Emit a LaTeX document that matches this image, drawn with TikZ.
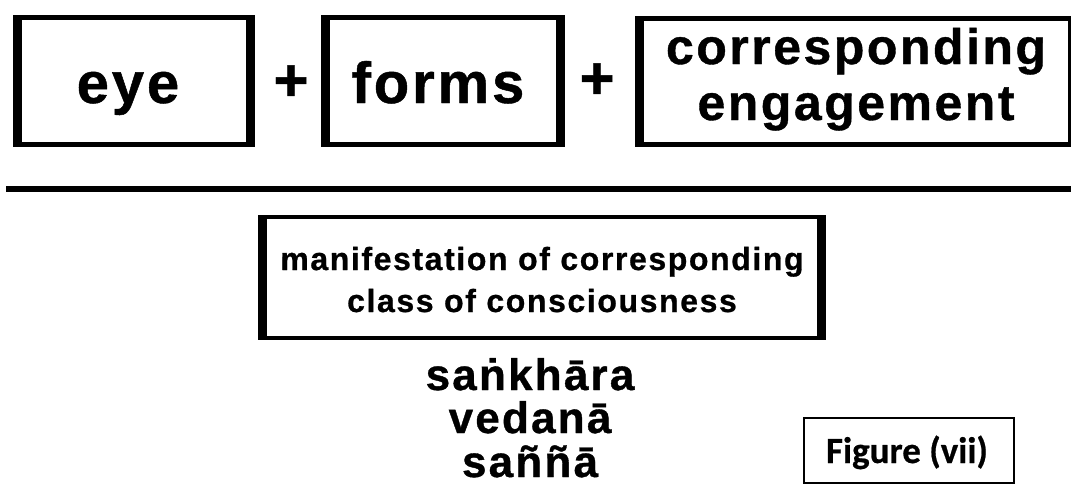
\documentclass[tikz,border=0pt]{standalone}
\usepackage{fontspec}
\setmainfont{Liberation Sans}[BoldFont={Liberation Sans Bold}]
\newfontfamily\lsb{Liberation Sans Bold}[LetterSpace=5, FakeBold=0.8]
\newfontfamily\cb{Carlito Bold}[FakeBold=0.6]
\begin{document}
\begin{tikzpicture}[x=1pt,y=-1pt,
  box/.style={draw, line width=5pt, inner sep=0pt, outer sep=0pt},
  side/.style={line width=9pt},
  big/.style={font={\lsb\fontsize{58}{60}\selectfont}, anchor=base, inner sep=0pt},
  mid/.style={font={\lsb\fontsize{50}{52}\selectfont}, anchor=base, inner sep=0pt},
  small/.style={font={\lsb\fontsize{32}{34}\selectfont}, anchor=base, inner sep=0pt},
  pali/.style={font={\lsb\fontsize{44}{46}\selectfont}, anchor=base, inner sep=0pt},
  plus/.style={font={\lsb\fontsize{60}{60}\selectfont}, inner sep=0pt}]
\useasboundingbox (0,0) rectangle (1071,485);
% top boxes
\node[box, minimum width=233pt, minimum height=127pt] (eyebox) at (134,81) {};
\node[box, minimum width=235pt, minimum height=127pt] (formsbox) at (443,81) {};
\node[box, minimum width=433pt, minimum height=126pt] (engbox) at (856,81.5) {};
\foreach \b in {eyebox,formsbox,engbox}{
  \draw[side] ([yshift=2.5pt]\b.north west) -- ([yshift=-2.5pt]\b.south west);
  \draw[side] ([yshift=2.5pt]\b.north east) -- ([yshift=-2.5pt]\b.south east);
}
\node[big] (eye) at (128,103) {eye};
\node[big] (forms) at (438,103) {forms};
\node[mid] (corr) at (856,64) {corresponding};
\node[mid] (eng) at (856,120) {engagement};
\node[plus] (p1) at (291,83) {+};
\node[plus] (p2) at (597,81) {+};
% rule
\coordinate (l1) at (6,189);
\coordinate (l2) at (1075,189);
\draw[line width=6pt] (l1) -- (l2);
% middle box
\node[box, line width=4pt, minimum width=559pt, minimum height=121pt] (manbox) at (542,277.5) {};
\draw[side] ([yshift=2pt]manbox.north west) -- ([yshift=-2pt]manbox.south west);
\draw[side] ([yshift=2pt]manbox.north east) -- ([yshift=-2pt]manbox.south east);
\node[small] (man1) at (542,270) {manifestation of corresponding};
\node[small] (man2) at (542,312) {class of consciousness};
% pali words
\node[pali] (w1) at (530,390) {saṅkhāra};
\node[pali] (w2) at (530,433) {vedanā};
\node[pali] (w3) at (530,477) {saññā};
% figure label
\node[draw, line width=2pt, inner sep=0pt, outer sep=0pt, minimum width=210pt, minimum height=65pt] (fig) at (909,450.5) {};
\node[font={\cb\fontsize{37}{39}\selectfont}, anchor=base, inner sep=0pt] (figt) at (907,463) {Figure (vii)};
\end{tikzpicture}
\end{document}
